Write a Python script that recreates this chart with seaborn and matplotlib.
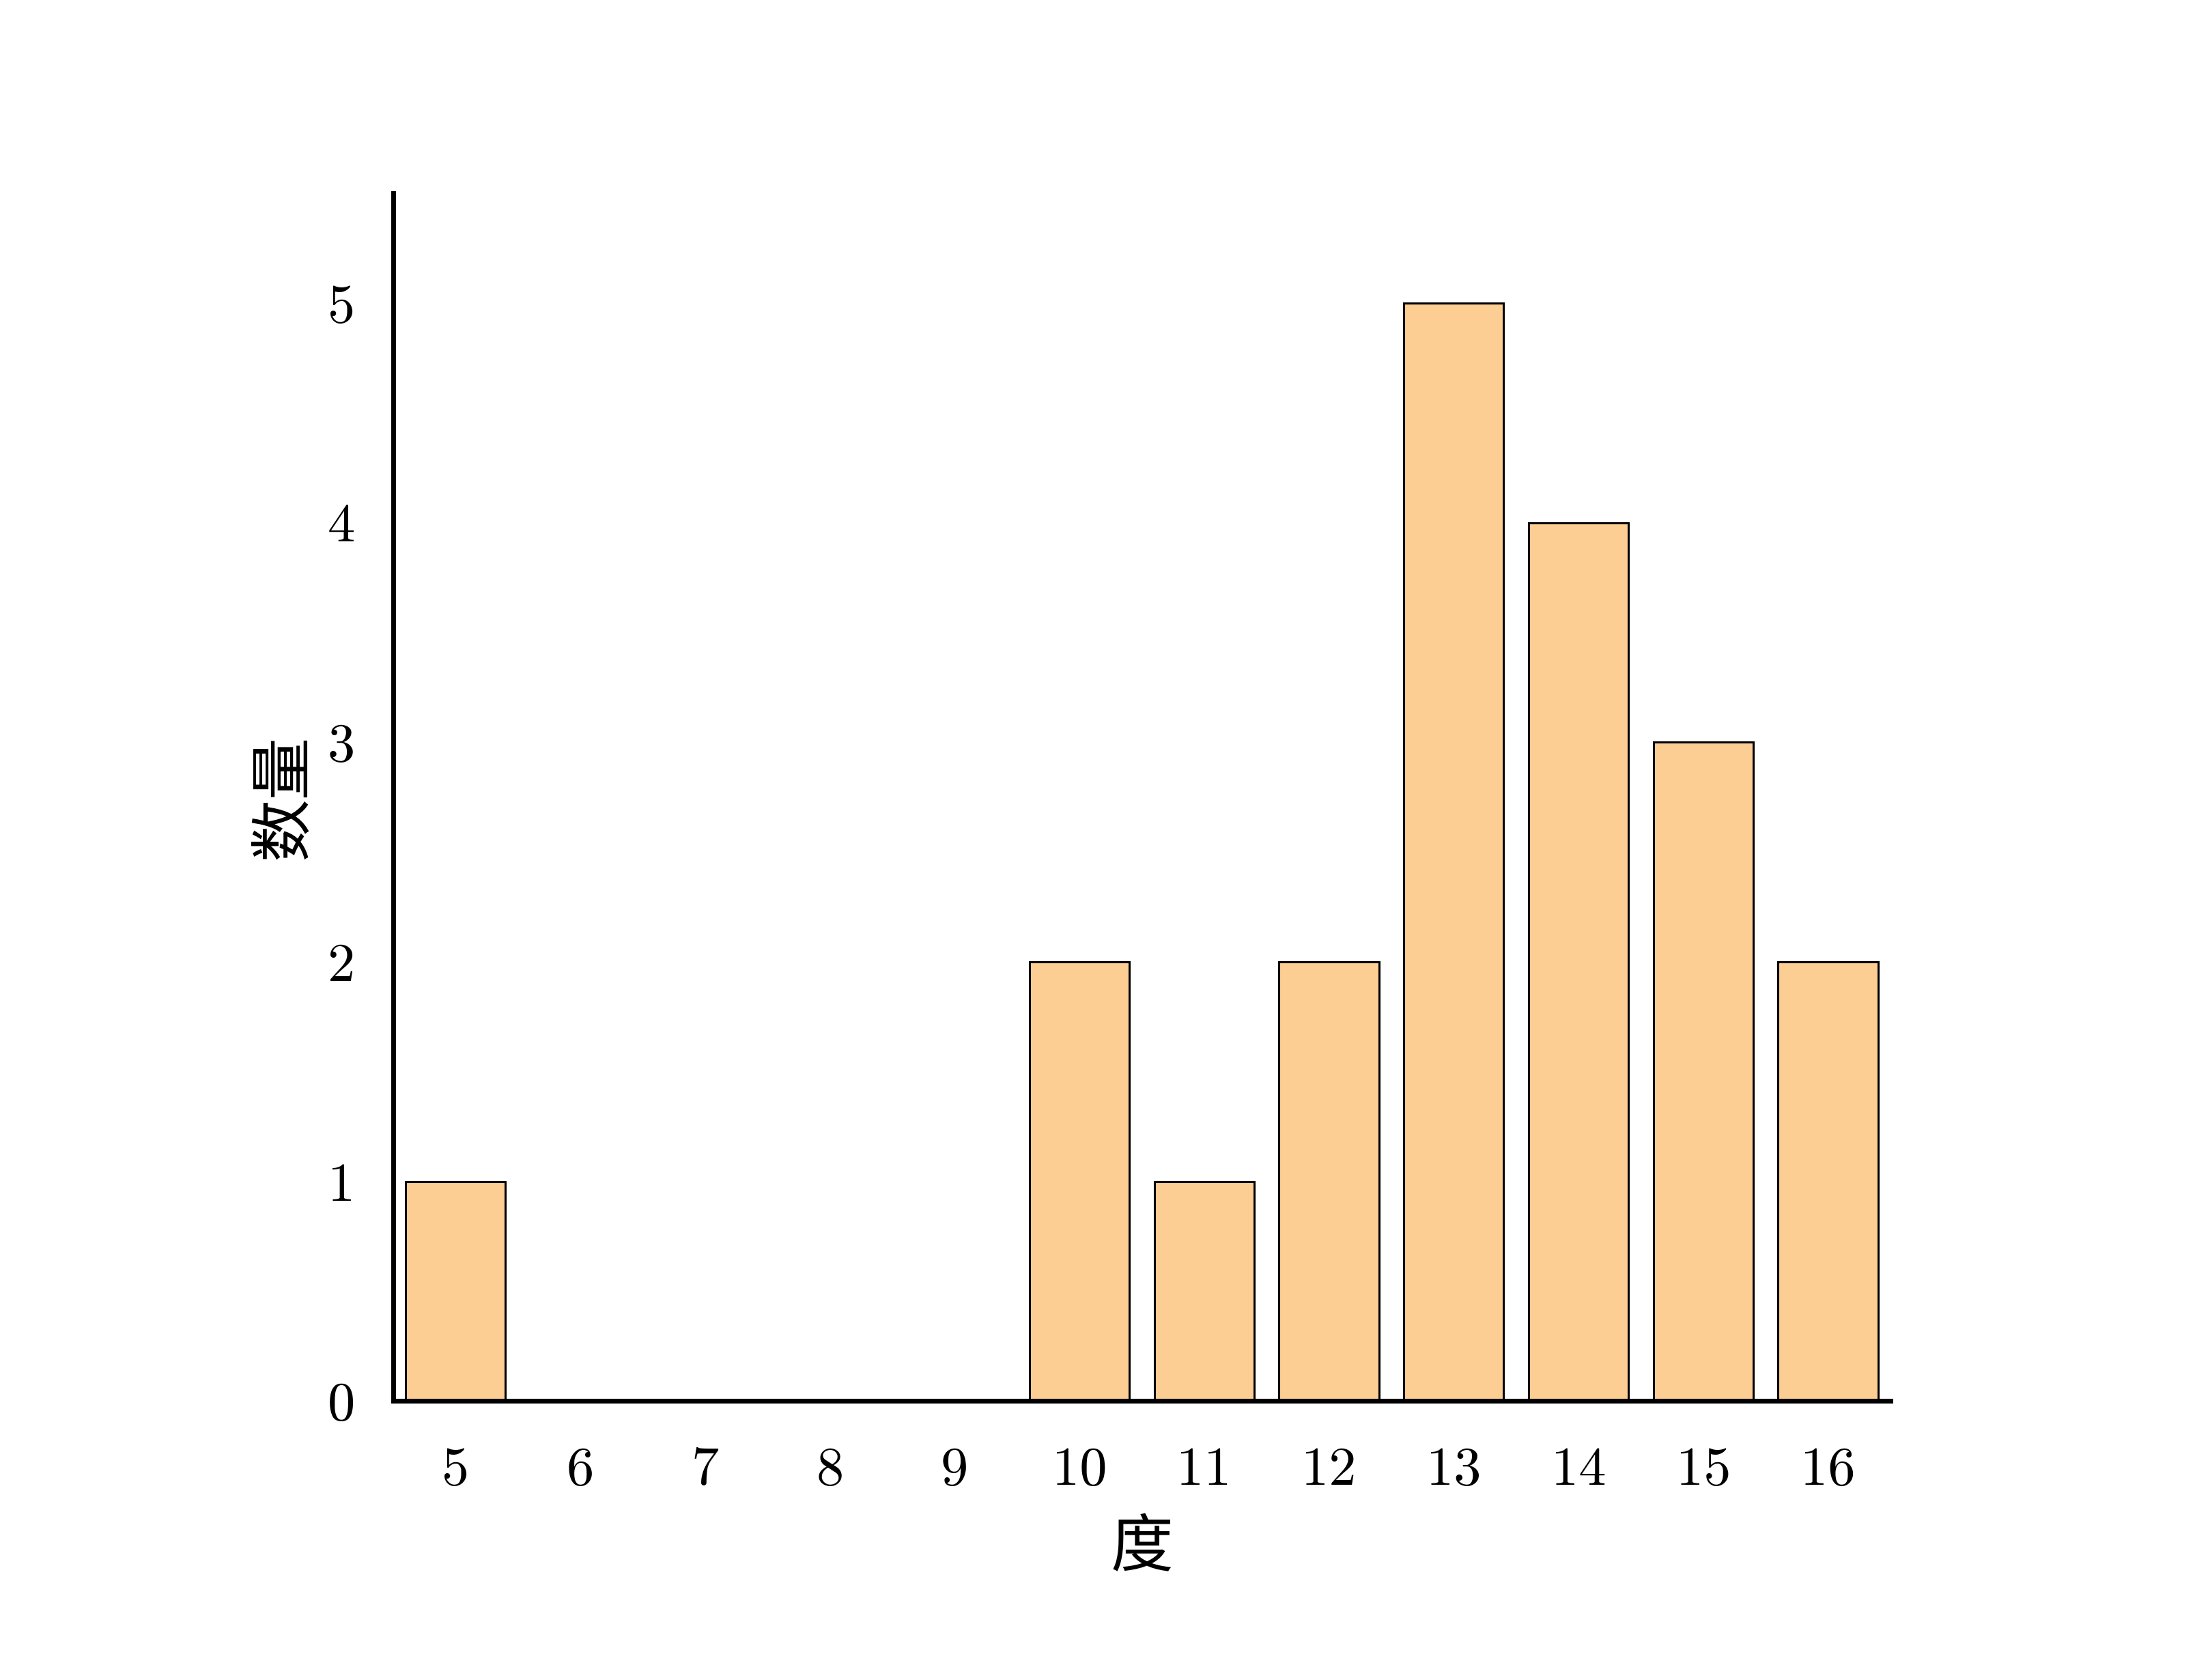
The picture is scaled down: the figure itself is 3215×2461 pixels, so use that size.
import numpy as np
import pandas as pd
import seaborn as sns
import matplotlib.pyplot as plt

# degree distribution data
degrees = [5, 6, 7, 8, 9, 10, 11, 12, 13, 14, 15, 16]
counts = [1, 0, 0, 0, 0, 2, 1, 2, 5, 4, 3, 2]
y_ticks = [0, 1, 2, 3, 4, 5]

df = pd.DataFrame({'度': degrees, '数量': counts})

sns.set_theme(style='white')
plt.rcParams['font.family'] = ['Noto Sans CJK SC', 'DejaVu Sans']
plt.rcParams['text.color'] = 'black'
plt.rcParams['axes.labelcolor'] = 'black'
plt.rcParams['xtick.color'] = 'black'
plt.rcParams['ytick.color'] = 'black'

fig = plt.figure(figsize=(16.08, 12.305), dpi=200)
ax = fig.add_axes([0.179, 0.166, 0.682, 0.719])

sns.barplot(data=df, x='度', y='数量', color='#fdce94', saturation=1,
            edgecolor='black', linewidth=1.1, width=0.8, ax=ax)

ax.set_ylim(0, 5.5)
ax.set_xlim(-0.5, 11.5)
ax.set_yticks(y_ticks)
ax.set_yticklabels([str(v) for v in y_ticks], fontfamily='cmr10', fontsize=29)
ax.set_xticks(range(len(degrees)))
ax.set_xticklabels([str(d) for d in degrees], fontfamily='cmr10', fontsize=29)
ax.tick_params(axis='x', length=0, pad=24)
ax.tick_params(axis='y', length=0, pad=20)

ax.set_xlabel('度', fontsize=33, labelpad=11)
ax.set_ylabel('数量', fontsize=33, labelpad=6)

for side in ['top', 'right']:
    ax.spines[side].set_visible(False)
for side in ['left', 'bottom']:
    ax.spines[side].set_linewidth(2.5)
    ax.spines[side].set_color('black')

fig.savefig('out.png', dpi=200)
